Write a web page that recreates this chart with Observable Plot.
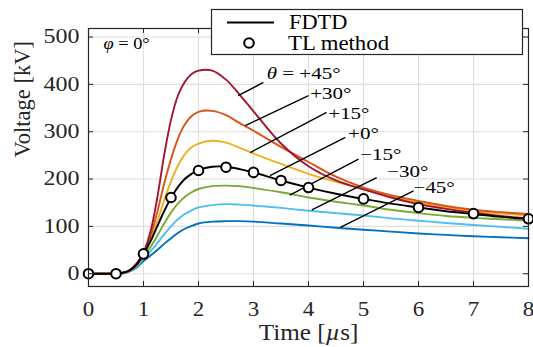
<!DOCTYPE html>
<html>
<head>
<meta charset="utf-8">
<script src="https://cdn.jsdelivr.net/npm/d3@7"></script>
<script src="https://cdn.jsdelivr.net/npm/@observablehq/plot@0.6"></script>
<style>
  body { margin: 0; background: #fff; }
</style>
</head>
<body>
<div id="chart"></div>
<script>
// Sampling instants (µs) shared by all FDTD waveforms
const time = [0, 0.25, 0.5, 0.625, 0.75, 0.875, 1, 1.125, 1.25, 1.375, 1.5, 1.625, 1.75, 1.875, 2, 2.25, 2.5, 2.75, 3, 3.5, 4, 4.5, 5, 5.5, 6, 6.5, 7, 7.5, 8];

// FDTD induced voltage (kV) for each incidence angle θ
const vPlus45  = [0, 0, 0, 2, 8, 22, 45, 88, 160, 250, 325, 376, 405, 422, 429, 429, 410, 378, 343, 275, 227, 197, 178, 161, 147, 137, 129, 122, 117];
const vPlus30  = [0, 0, 0, 2, 7, 20, 42, 78, 130, 190, 242, 285, 315, 333, 342, 344, 335, 318, 302, 268, 236, 205, 182, 166, 154, 143, 135, 130, 126];
const vPlus15  = [0, 0, 0, 2, 7, 19, 40, 70, 110, 155, 195, 228, 252, 267, 275, 281, 277, 266, 254, 232, 211, 194, 179, 164, 150, 140, 132, 127, 123];
const vZero    = [0, 0, 0, 2, 7, 19, 42, 68, 100, 132, 160, 183, 200, 211, 219, 226, 226, 221, 214, 197, 182, 169, 158, 148, 140, 132, 126, 120, 116];
const vMinus15 = [0, 0, 0, 2, 6, 17, 36, 56, 80, 106, 129, 148, 162, 172, 179, 185, 186, 185, 181, 172, 161, 152, 144, 135, 128, 122, 118, 115, 112];
const vMinus30 = [0, 0, 0, 1, 6, 15, 32, 47, 64, 83, 100, 115, 126, 134, 140, 145, 147, 146, 144, 139, 133, 128, 123, 117, 112, 107, 103, 99, 95];
const vMinus45 = [0, 0, 0, 1, 5, 13, 27, 38, 50, 63, 75, 86, 95, 101, 106, 110, 111, 111, 110, 106, 102, 97, 93, 89, 85, 82, 79, 77, 75];

// Transmission-line method, θ = 0°
const tlTime    = [0, 0.5, 1, 1.5, 2, 2.5, 3, 3.5, 4, 5, 6, 7, 8];
const tlVoltage = [0, 0, 42, 161, 218, 225, 214, 197, 182, 158, 140, 127, 116];

// Axis ticks
const xTicks = [0, 1, 2, 3, 4, 5, 6, 7, 8];
const yTicks = [0, 100, 200, 300, 400, 500];

// Angle labels with their leader lines (data units)
const angleLabels  = ["θ = +45°", "+30°", "+15°", "+0°", "−15°", "−30°", "−45°"];
const labelTime    = [3.24, 4.03, 4.36, 4.72, 4.94, 5.43, 5.91];
const labelVoltage = [423, 380, 338, 296, 253, 217, 182];
const leaderT1 = [2.72, 2.85, 2.94, 3.30, 3.66, 4.06, 4.58];
const leaderV1 = [376, 313, 256, 207, 166, 135, 98];
const leaderT2 = [3.18, 4.00, 4.33, 4.67, 4.91, 5.24, 5.91];
const leaderV2 = [404, 376, 341, 288, 242, 203, 175];

const xTitle = "Time [µs]";
const yTitle = "Voltage [kV]";
const caseLabel = "φ = 0°";

const series = [
  {values: vMinus45, color: "#0072BD"},
  {values: vMinus30, color: "#4DBEEE"},
  {values: vMinus15, color: "#77AC30"},
  {values: vPlus15,  color: "#EDB120"},
  {values: vPlus30,  color: "#D95319"},
  {values: vPlus45,  color: "#A2142F"},
  {values: vZero,    color: "#000000"}
];

const W = 533, H = 347;
const mL = 88, mR = 5, mT = 28, mB = 61;
const innerW = W - mL - mR, innerH = H - mT - mB;
const axisColor = "#262626";
const serif = "'Liberation Serif', 'Times New Roman', serif";
const tickLen = 5;

const svgNode = Plot.plot({
  width: W,
  height: H,
  marginLeft: mL,
  marginRight: mR,
  marginTop: mT,
  marginBottom: mB,
  x: {domain: [0, 8]},
  y: {domain: [-27, 518]},
  style: {
    fontFamily: serif,
    fontSize: "20px",
    color: axisColor,
    background: "#fff"
  },
  marks: [
    Plot.gridX(xTicks, {stroke: "#dedede", strokeOpacity: 1, strokeWidth: 1.1}),
    Plot.gridY(yTicks, {stroke: "#dedede", strokeOpacity: 1, strokeWidth: 1.1}),
    ...series.map(s => Plot.line(time, {
      x: d => d,
      y: (d, i) => s.values[i],
      stroke: s.color,
      strokeWidth: 1.9,
      curve: "catmull-rom"
    })),
    Plot.link(angleLabels, {
      x1: (d, i) => leaderT1[i],
      y1: (d, i) => leaderV1[i],
      x2: (d, i) => leaderT2[i],
      y2: (d, i) => leaderV2[i],
      stroke: "#000",
      strokeWidth: 1.4
    }),
    Plot.dot(tlTime, {
      x: d => d,
      y: (d, i) => tlVoltage[i],
      r: 4.8,
      fill: "#fff",
      stroke: "#000",
      strokeWidth: 2
    }),
    // inward tick marks on all four sides
    Plot.tickX(xTicks, {x: d => d, insetTop: innerH - tickLen, stroke: axisColor}),
    Plot.tickX(xTicks, {x: d => d, insetBottom: innerH - tickLen, stroke: axisColor}),
    Plot.tickY(yTicks, {y: d => d, insetRight: innerW - tickLen, stroke: axisColor}),
    Plot.tickY(yTicks, {y: d => d, insetLeft: innerW - tickLen, stroke: axisColor}),
    Plot.frame({stroke: axisColor, strokeWidth: 1.2}),
    Plot.axisX(xTicks, {tickSize: 0, tickPadding: 15, label: null, fontSize: 20, fontFamily: serif, fontVariant: "normal"}),
    Plot.axisY(yTicks, {tickSize: 0, tickPadding: 9, label: null, fontSize: 20, fontFamily: serif, fontVariant: "normal"}),
    Plot.text([xTitle], {frameAnchor: "bottom", dy: 38, lineAnchor: "top", fontSize: 22.5, fontFamily: serif}),
    Plot.text([yTitle], {frameAnchor: "left", dx: -66, rotate: -90, fontSize: 22.5, fontFamily: serif}),
    Plot.text(angleLabels, {
      x: (d, i) => labelTime[i],
      y: (d, i) => labelVoltage[i],
      textAnchor: "start",
      lineAnchor: "middle",
      fontSize: 17.5,
      fontFamily: serif,
      fill: "#000"
    }),
    Plot.text([caseLabel], {frameAnchor: "top-left", dx: 15, dy: 15, lineAnchor: "middle", fontSize: 17, fontFamily: serif, fill: "#000"})
  ]
});

const svg = d3.select(svgNode);
svg.selectAll("text").attr("font-family", serif);

// Widen glyphs horizontally to give the serif text its wide set;
// a numeric x placement is folded into the transform so only the glyphs are scaled
function stretch(node, k) {
  const tr = node.getAttribute("transform") || "";
  const xAttr = node.getAttribute("x");
  let shift = "";
  if (xAttr !== null && isFinite(+xAttr)) {
    shift = ` translate(${+xAttr},0)`;
    node.removeAttribute("x");
  }
  node.setAttribute("transform", `${tr}${shift} scale(${k},1)`);
}
svg.selectAll('g[aria-label="x-axis tick label"] text').each(function () { stretch(this, 1.15); });
svg.selectAll('g[aria-label="y-axis tick label"] text').each(function () { stretch(this, 1.2); });
svg.selectAll("text").each(function () {
  const s = this.textContent;
  if (angleLabels.includes(s)) stretch(this, 1.2);
  else if (s === xTitle) stretch(this, 1.12);
  else if (s === caseLabel) stretch(this, 1.08);
});

// Greek symbols and µ set in italic
svg.selectAll("text").each(function () {
  const s = this.textContent;
  if (!/[θφµ]/.test(s)) return;
  const el = d3.select(this);
  el.text(null);
  for (const part of s.split(/([θφµ])/)) {
    if (!part) continue;
    const ts = el.append("tspan").text(part);
    if (/[θφµ]/.test(part)) ts.attr("font-style", "italic");
  }
});

// Legend box
const lg = svg.append("g").attr("aria-label", "legend")
  .attr("font-family", serif)
  .attr("font-size", 20)
  .attr("text-anchor", "start");
lg.append("rect")
  .attr("x", 211.5).attr("y", 9.5).attr("width", 311).attr("height", 45)
  .attr("fill", "#fff").attr("stroke", axisColor).attr("stroke-width", 1.2);
lg.append("line")
  .attr("x1", 227).attr("x2", 274).attr("y1", 22.5).attr("y2", 22.5)
  .attr("stroke", "#000").attr("stroke-width", 1.9);
lg.append("circle")
  .attr("cx", 249).attr("cy", 43).attr("r", 4.8)
  .attr("fill", "#fff").attr("stroke", "#000").attr("stroke-width", 2);
lg.append("text").attr("transform", "translate(289,28.5) scale(1.12,1)").attr("fill", "#000").text("FDTD");
lg.append("text").attr("transform", "translate(288,50) scale(1.14,1)").attr("fill", "#000").text("TL method");

document.getElementById("chart").appendChild(svgNode);
</script>
</body>
</html>
